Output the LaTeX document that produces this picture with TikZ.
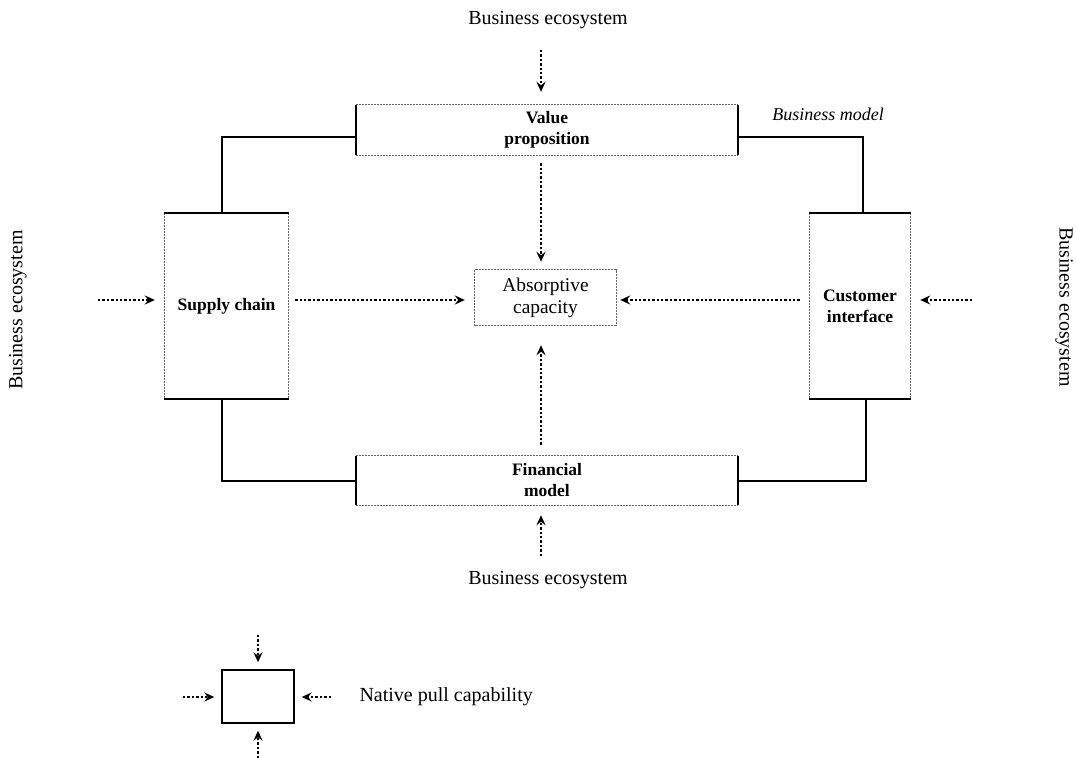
\documentclass[tikz,border=0pt]{standalone}
\usepackage{fontspec}
\setmainfont{Liberation Serif}
\usetikzlibrary{arrows.meta}
\begin{document}
\begin{tikzpicture}[x=1pt,y=-1pt,
  boxnode/.style={draw=none,inner sep=0pt,align=center,font=\fontsize{17.5}{21}\selectfont\bfseries},
  dashedge/.style={draw=black!60,line width=0.7pt,dash pattern=on 2pt off 1pt},
  thickedge/.style={draw=black,line width=2.4pt},
  link/.style={draw=black,line width=1.4pt},
  pull/.style={draw=black,line width=2.4pt,dash pattern=on 2.4pt off 2pt,
    -{Stealth[length=10pt,width=9pt,inset=3.5pt]}},
  eco/.style={font=\fontsize{20}{22}\selectfont},
]
\useasboundingbox (0,0) rectangle (1076,758);

% building blocks of the business model
\node[boxnode,minimum width=382pt,minimum height=50pt] (vp) at (547,130) {Value\\proposition};
\node[boxnode,minimum width=382pt,minimum height=49pt] (fm) at (547,480.5) {Financial\\model};
\node[boxnode,minimum width=123pt,minimum height=186pt] (sc) at (226.5,306) {Supply chain};
\node[boxnode,minimum width=100pt,minimum height=186pt] (ci) at (860,306) {Customer\\interface};
\node[draw=none,inner sep=0pt,align=center,minimum width=141pt,minimum height=55pt,
  font=\fontsize{19.4}{22}\selectfont] (ac) at (545.5,297.5) {Absorptive\\capacity};

% horizontal boxes: dashed top/bottom, heavy ends
\foreach \b in {vp,fm}{
  \draw[dashedge] (\b.north west) -- (\b.north east);
  \draw[dashedge] (\b.south west) -- (\b.south east);
  \draw[thickedge] (\b.north west) -- (\b.south west);
  \draw[thickedge] (\b.north east) -- (\b.south east);
}
% vertical boxes: dashed sides, heavy top/bottom
\foreach \b in {sc,ci}{
  \draw[dashedge] (\b.north west) -- (\b.south west);
  \draw[dashedge] (\b.north east) -- (\b.south east);
  \draw[thickedge] ([xshift=-1pt]\b.north west) -- ([xshift=1pt]\b.north east);
  \draw[thickedge] ([xshift=-1pt]\b.south west) -- ([xshift=1pt]\b.south east);
}
\draw[dashedge] (ac.north west) rectangle (ac.south east);

% frame linking the blocks
\coordinate (c1) at (222,137);
\coordinate (c2) at (863,137);
\coordinate (c3) at (222,481);
\coordinate (c4) at (866,481);
\draw[link] (vp.west |- c1) -- (c1) -- (c1 |- sc.north);
\draw[link] (vp.east |- c2) -- (c2) -- (c2 |- ci.north);
\draw[link] (c3 |- sc.south) -- (c3) -- (fm.west |- c3);
\draw[link] (c4 |- ci.south) -- (c4) -- (fm.east |- c4);

\node[font=\fontsize{18}{20}\selectfont\itshape] (bm) at (828,114) {Business model};

% surrounding ecosystem
\node[eco] (et) at (548,20) {Business ecosystem};
\node[eco] (eb) at (548,580) {Business ecosystem};
\node[eco,rotate=90] (el) at (18,310) {Business ecosystem};
\node[eco,rotate=-90] (er) at (1064,307) {Business ecosystem};

\coordinate (at) at (541,50);
\coordinate (ab) at (541,556);
\coordinate (al) at (98,300);
\coordinate (ar) at (972,300);
\draw[pull] (at) -- ([yshift=13pt]vp.north -| at);
\draw[pull] (ab) -- ([yshift=-10pt]fm.south -| ab);
\draw[pull] (al) -- ([xshift=-10pt]sc.west |- al);
\draw[pull] (ar) -- ([xshift=10pt]ci.east |- ar);

% pulls towards absorptive capacity
\draw[pull] ([yshift=-8pt]vp.south -| at) -- ([yshift=8pt]ac.north -| at);
\draw[pull] ([yshift=11pt]fm.north -| at) -- ([yshift=-20pt]ac.south -| at);
\draw[pull] ([xshift=7pt]sc.east |- al) -- ([xshift=-10pt]ac.west |- al);
\draw[pull] ([xshift=-10pt]ci.west |- ar) -- ([xshift=4pt]ac.east |- ar);

% legend
\node[draw=black,line width=1.4pt,minimum width=72pt,minimum height=53pt,inner sep=0pt] (lg) at (258,696.5) {};
\coordinate (lt) at (258,635);
\coordinate (lb) at (258,758);
\coordinate (ll) at (183,697);
\coordinate (lr) at (331,697);
\draw[pull] (lt) -- ([yshift=7pt]lg.north);
\draw[pull] (lb) -- ([yshift=-7pt]lg.south);
\draw[pull] (ll) -- ([xshift=-7pt]lg.west |- ll);
\draw[pull] (lr) -- ([xshift=7pt]lg.east |- lr);
\node[eco,anchor=west] (lgt) at (356,697) {Native pull capability};
\end{tikzpicture}
\end{document}
